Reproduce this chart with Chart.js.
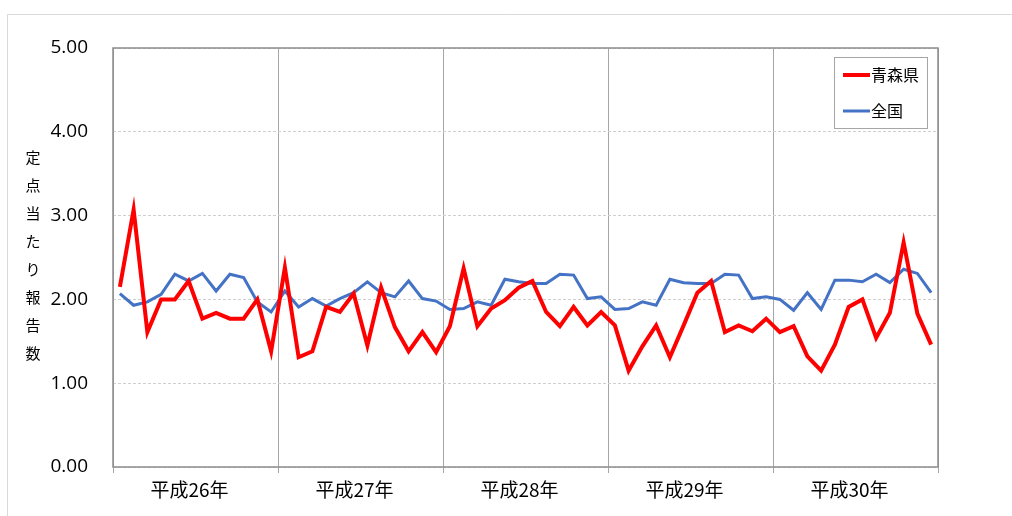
<!DOCTYPE html>
<html lang="ja">
<head>
<meta charset="utf-8">
<title>定点当たり報告数</title>
<script src="https://cdn.jsdelivr.net/npm/chart.js@4.4.1/dist/chart.umd.min.js"></script>
<style>
  html, body { margin: 0; padding: 0; background: #fff; }
  #grafica { display: block; }
</style>
</head>
<body>
<canvas id="grafica" width="1012" height="516"></canvas>
<script>
// 年ごとのラベル（各年12か月分）
const anios = ['平成26年', '平成27年', '平成28年', '平成29年', '平成30年'];

// 青森県の定点当たり報告数（月別）
const aomori = [
    2.15, 3.07, 1.61, 2.00, 2.00, 2.22, 1.77, 1.84, 1.77, 1.77, 2.00, 1.38,
    2.38, 1.31, 1.38, 1.91, 1.85, 2.07, 1.45, 2.14, 1.67, 1.38, 1.61, 1.37,
    1.68, 2.37, 1.68, 1.89, 1.99, 2.14, 2.22, 1.85, 1.68, 1.91, 1.69, 1.85,
    1.69, 1.15, 1.44, 1.69, 1.31, 1.69, 2.08, 2.22, 1.61, 1.69, 1.62, 1.77,
    1.61, 1.68, 1.32, 1.15, 1.46, 1.91, 2.00, 1.54, 1.84, 2.68, 1.83, 1.46
];

// 全国の定点当たり報告数（月別）
const zenkoku = [
    2.07, 1.93, 1.97, 2.06, 2.30, 2.22, 2.31, 2.10, 2.30, 2.26, 1.97, 1.85,
    2.10, 1.91, 2.01, 1.92, 2.01, 2.08, 2.21, 2.08, 2.03, 2.22, 2.01, 1.98,
    1.88, 1.89, 1.97, 1.93, 2.24, 2.21, 2.19, 2.19, 2.30, 2.29, 2.01, 2.03,
    1.88, 1.89, 1.97, 1.93, 2.24, 2.20, 2.19, 2.19, 2.30, 2.29, 2.01, 2.03,
    2.00, 1.87, 2.08, 1.88, 2.23, 2.23, 2.21, 2.30, 2.20, 2.36, 2.31, 2.08
];

const tituloEje = ['定', '点', '当', 'た', 'り', '報', '告', '数'];

const fuenteNum = '"Open Sans", "Liberation Sans", sans-serif';
const fuenteJp = '"Noto Sans CJK JP", "Noto Sans", sans-serif';

// 各月を年ブロックの中央に置く（x = 月の通し番号 + 0.5）
const aPuntos = serie => serie.map((v, i) => ({ x: i + 0.5, y: v }));

// 外枠・軸タイトル・プロット枠・凡例を描くプラグイン
const marcoPlugin = {
    id: 'marco',
    beforeDraw(chart) {
        const ctx = chart.ctx;
        ctx.save();
        ctx.fillStyle = '#ffffff';
        ctx.fillRect(0, 0, chart.width, chart.height);

        // 外枠（左と上のみ見える）
        ctx.strokeStyle = '#d9d9d9';
        ctx.lineWidth = 1;
        ctx.beginPath();
        ctx.moveTo(7.5, chart.height);
        ctx.lineTo(7.5, 14.5);
        ctx.lineTo(chart.width, 14.5);
        ctx.stroke();

        // 縦書きの軸タイトル
        ctx.fillStyle = '#000';
        ctx.font = '15px ' + fuenteJp;
        ctx.textAlign = 'center';
        ctx.textBaseline = 'middle';
        tituloEje.forEach((c, i) => ctx.fillText(c, 33, 157 + i * 28));
        ctx.restore();
    },
    beforeDatasetsDraw(chart) {
        const { ctx, chartArea: a } = chart;
        ctx.save();
        ctx.strokeStyle = '#8c8c8c';
        ctx.lineWidth = 1.5;
        ctx.strokeRect(a.left, a.top, a.right - a.left, a.bottom - a.top);
        ctx.restore();
    },
    afterDraw(chart) {
        const ctx = chart.ctx;
        ctx.save();
        ctx.strokeStyle = '#a6a6a6';
        ctx.lineWidth = 1;
        ctx.fillStyle = '#fff';
        ctx.fillRect(834.5, 57.5, 93, 71);
        ctx.strokeRect(834.5, 57.5, 93, 71);

        ctx.font = '16px ' + fuenteJp;
        ctx.textBaseline = 'middle';
        ctx.textAlign = 'left';
        chart.data.datasets.forEach((ds, i) => {
            const y = 75 + i * 36;
            ctx.strokeStyle = ds.borderColor;
            ctx.lineWidth = ds.borderWidth;
            ctx.beginPath();
            ctx.moveTo(843, y);
            ctx.lineTo(870, y);
            ctx.stroke();
            ctx.fillStyle = '#000';
            ctx.fillText(ds.label, 871, y);
        });
        ctx.restore();
    }
};

new Chart(document.getElementById('grafica'), {
    type: 'line',
    data: {
        datasets: [
            { label: '青森県', data: aPuntos(aomori), borderColor: '#ff0000', backgroundColor: '#ff0000', borderWidth: 4 },
            { label: '全国', data: aPuntos(zenkoku), borderColor: '#4472c4', backgroundColor: '#4472c4', borderWidth: 3 }
        ]
    },
    options: {
        responsive: false,
        animation: false,
        events: [],
        layout: { padding: { left: 0, top: 48, right: 74, bottom: 0 } },
        elements: { point: { radius: 0 }, line: { tension: 0 } },
        plugins: { legend: { display: false }, tooltip: { enabled: false } },
        scales: {
            x: {
                type: 'linear',
                min: 0,
                max: 60,
                afterBuildTicks: s => { s.ticks = [0, 6, 12, 18, 24, 30, 36, 42, 48, 54, 60].map(v => ({ value: v })); },
                afterFit: s => { s.height = 49; },
                grid: {
                    color: c => (c.tick && c.tick.value % 12 === 0) ? '#a6a6a6' : 'rgba(0,0,0,0)',
                    tickColor: c => (c.tick && c.tick.value % 12 === 0) ? '#a6a6a6' : 'rgba(0,0,0,0)',
                    tickLength: 6,
                    lineWidth: 1
                },
                border: { display: false },
                ticks: {
                    autoSkip: false,
                    maxRotation: 0,
                    padding: 5,
                    labelOffset: -6,
                    color: '#000',
                    font: { family: fuenteJp, size: 19 },
                    callback: v => (v % 12 === 6) ? anios[(v - 6) / 12] : ''
                }
            },
            y: {
                min: 0,
                max: 5,
                afterFit: s => { s.width = 113; },
                grid: { color: '#cfcfcf', drawTicks: false, lineWidth: 1 },
                border: { display: false, dash: [3, 2] },
                ticks: {
                    stepSize: 1,
                    padding: 25,
                    color: '#000',
                    font: { family: fuenteNum, size: 19 },
                    callback: v => v.toFixed(2)
                }
            }
        }
    },
    plugins: [marcoPlugin]
});
</script>
</body>
</html>
